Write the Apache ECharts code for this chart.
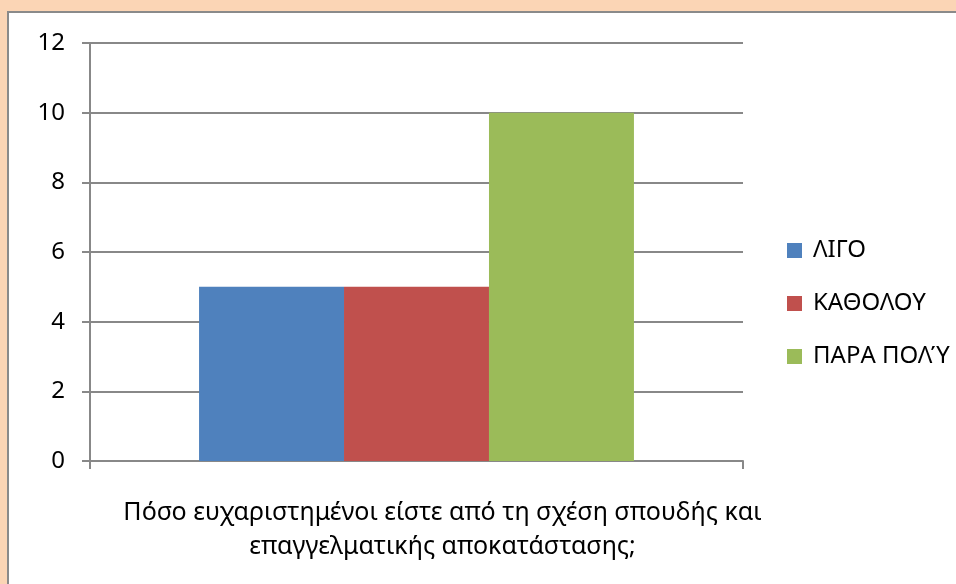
<!DOCTYPE html>
<html>
<head>
<meta charset="utf-8">
<script src="https://cdn.jsdelivr.net/npm/echarts@6/dist/echarts.min.js"></script>
<style>
html,body{margin:0;padding:0;background:#fbd5b5;}
#c{position:absolute;left:0;top:0;width:956px;height:584px;}
</style>
</head>
<body>
<div id="c"></div>
<script>
var categories = ['Πόσο ευχαριστημένοι είστε από τη σχέση σπουδής και\nεπαγγελματικής αποκατάστασης;'];
var seriesNames = ['ΛΙΓΟ', 'ΚΑΘΟΛΟΥ', 'ΠΑΡΑ ΠΟΛ\u038E'];
var valuesLigo = [5];
var valuesKatholou = [5];
var valuesParaPoly = [10];
var yTicks = [0, 2, 4, 6, 8, 10, 12];

var colors = ['#4f81bd', '#c0504d', '#9bbb59'];
var FONT = '"Noto Sans", "Open Sans", sans-serif';
var chart = echarts.init(document.getElementById('c'), null, {renderer: 'canvas'});
var seriesData = [valuesLigo, valuesKatholou, valuesParaPoly];
chart.setOption({
  animation: false,
  backgroundColor: '#fbd5b5',
  graphic: [
    {type: 'rect', z: -10, shape: {x: 8, y: 12, width: 960, height: 600},
     style: {fill: '#ffffff', stroke: '#8a8a8a', lineWidth: 2}, silent: true}
  ],
  grid: {left: 90, right: 213, top: 43, bottom: 123, containLabel: false},
  legend: {
    orient: 'vertical', left: 787, top: 234, padding: 0,
    itemWidth: 15, itemHeight: 15, itemGap: 20,
    icon: 'rect',
    textStyle: {fontFamily: FONT, fontSize: 24, lineHeight: 33, color: '#000', padding: [0, 0, 0, 6]},
    data: seriesNames
  },
  xAxis: {
    type: 'category', data: categories,
    axisLine: {lineStyle: {color: '#888888', width: 2}},
    axisTick: {show: true, length: 8, lineStyle: {color: '#888888', width: 2}},
    axisLabel: {fontFamily: FONT, fontSize: 25, color: '#000', margin: 35, lineHeight: 34,
      padding: [0, 0, 0, 52], interval: 0}
  },
  yAxis: {
    type: 'value', min: yTicks[0], max: yTicks[yTicks.length - 1], interval: yTicks[1] - yTicks[0],
    axisLine: {show: true, lineStyle: {color: '#888888', width: 2}},
    axisTick: {show: true, length: 8, lineStyle: {color: '#888888', width: 2}},
    splitLine: {lineStyle: {color: '#888888', width: 2}},
    axisLabel: {fontFamily: FONT, fontSize: 24, color: '#000', margin: 25}
  },
  series: seriesNames.map(function (n, i) {
    return {
      name: n, type: 'bar', data: seriesData[i],
      itemStyle: {color: colors[i]},
      barGap: '0%', barCategoryGap: '33.4%'
    };
  })
});
</script>
</body>
</html>
